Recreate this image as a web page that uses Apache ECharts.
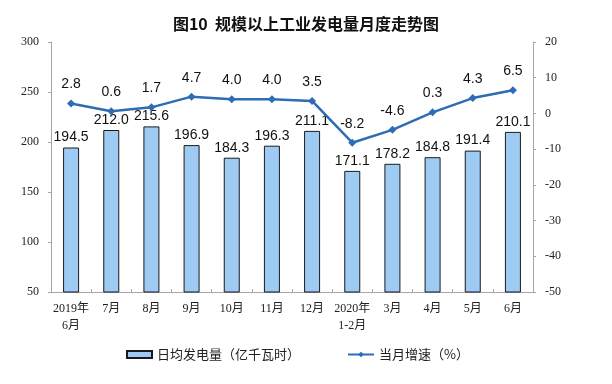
<!DOCTYPE html>
<html>
<head>
<meta charset="utf-8">
<script src="https://cdn.jsdelivr.net/npm/echarts@6/dist/echarts.min.js"></script>
<style>html,body{margin:0;padding:0;background:#fff;}#c{width:612px;height:384px;}</style>
</head>
<body>
<div id="c"></div>
<script>
var categories = ['2019年\n6月','7月','8月','9月','10月','11月','12月','2020年\n1-2月','3月','4月','5月','6月'];
var dailyOutput = [194.5,212.0,215.6,196.9,184.3,196.3,211.1,171.1,178.2,184.8,191.4,210.1];
var monthlyGrowth = [2.8,0.6,1.7,4.7,4.0,4.0,3.5,-8.2,-4.6,0.3,4.3,6.5];
var leftTicks = {min:50,max:300,interval:50};
var rightTicks = {min:-50,max:20,interval:10};

var chart = echarts.init(document.getElementById('c'), null, {renderer:'canvas'});
var serif = '"Liberation Serif","Times New Roman","Noto Sans CJK SC",serif';
var sans = '"Liberation Sans",Arial,"Noto Sans CJK SC",sans-serif';
var cjk = '"Noto Sans CJK SC",sans-serif';
var lineColor = '#2e6db4';
chart.setOption({
  animation:false,
  backgroundColor:'#fff',
  title:{text:'图10  规模以上工业发电量月度走势图',left:'center',top:11,
    textStyle:{fontFamily:cjk,fontSize:16,fontWeight:'bold',color:'#111'}},
  legend:[{
    data:[{name:'日均发电量（亿千瓦时）',icon:'rect'}],
    left:121,top:343,itemWidth:25,itemHeight:7,itemGap:4,
    textStyle:{fontFamily:cjk,fontSize:13,color:'#222'}
  },{
    data:['当月增速（%）'],
    left:342,top:343,itemWidth:26,itemHeight:7,itemGap:4,
    textStyle:{fontFamily:cjk,fontSize:13,color:'#222'}
  }],
  grid:{left:51,right:79,top:42,bottom:92},
  xAxis:{type:'category',data:categories,
    axisLine:{onZero:false,lineStyle:{color:'#a6a6a6',width:1}},
    axisTick:{show:true,inside:true,length:3,lineStyle:{color:'#a6a6a6'}},
    axisLabel:{fontFamily:serif,fontSize:12,color:'#222',margin:8,lineHeight:17,interval:0}
  },
  yAxis:[{
    type:'value',min:leftTicks.min,max:leftTicks.max,interval:leftTicks.interval,
    axisLine:{show:true,lineStyle:{color:'#a6a6a6'}},
    axisTick:{show:true,length:3,lineStyle:{color:'#a6a6a6'}},
    splitLine:{show:false},
    axisLabel:{fontFamily:serif,fontSize:12,color:'#222',margin:12}
  },{
    type:'value',min:rightTicks.min,max:rightTicks.max,interval:rightTicks.interval,
    axisLine:{show:true,lineStyle:{color:'#a6a6a6'}},
    axisTick:{show:true,length:3,lineStyle:{color:'#a6a6a6'}},
    splitLine:{show:false},
    axisLabel:{fontFamily:serif,fontSize:12,color:'#222',margin:12}
  }],
  series:[{
    name:'日均发电量（亿千瓦时）',type:'bar',data:dailyOutput,barWidth:16,
    itemStyle:{color:'#9ecbf3',borderColor:'#1a1a1a',borderWidth:1},
    label:{show:true,position:'top',distance:3,fontFamily:sans,fontSize:14,color:'#111',
      formatter:function(p){return p.value.toFixed(1);}}
  },{
    name:'当月增速（%）',type:'line',yAxisIndex:1,data:monthlyGrowth,
    symbol:'diamond',symbolSize:8,
    lineStyle:{color:lineColor,width:2.5},
    itemStyle:{color:lineColor},
    label:{show:true,position:'top',distance:8,fontFamily:sans,fontSize:14,color:'#111',
      formatter:function(p){return p.value.toFixed(1);}}
  }]
});
</script>
</body>
</html>
